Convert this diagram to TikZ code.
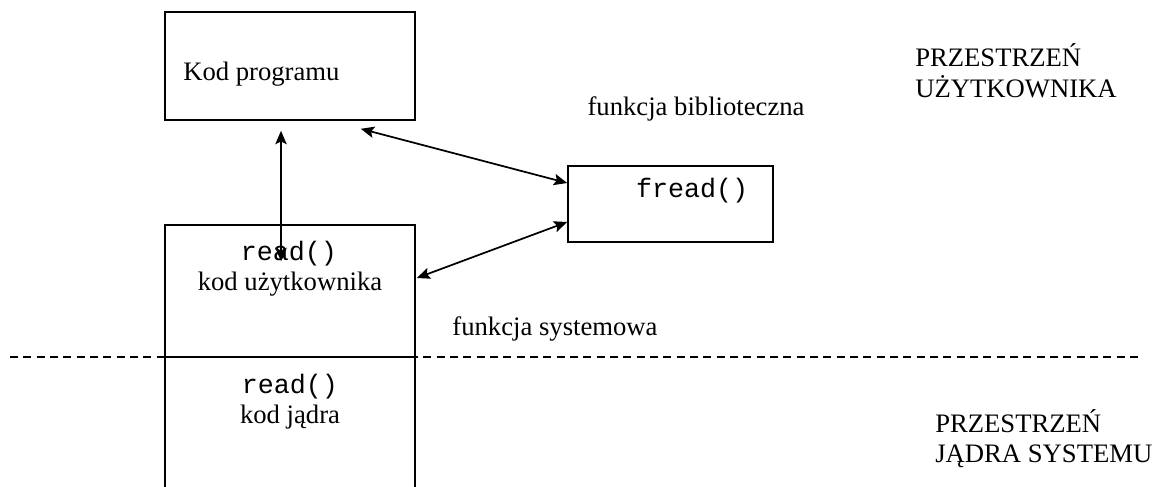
\documentclass[tikz,border=0pt]{standalone}
\usepackage{fontspec}
\setmainfont{Liberation Serif}
\setmonofont{Liberation Mono}
\usetikzlibrary{arrows.meta,calc}
\begin{document}
\begin{tikzpicture}[
  x=0.75pt,y=-0.75pt,
  font=\fontsize{20}{23}\selectfont,
  line/.style={line width=1.2pt},
  box/.style={draw,line width=1.2pt,rectangle,inner sep=0pt},
  txt/.style={inner sep=0pt,anchor=base},
  arr/.style={line width=1.3pt,{Stealth[length=10pt,width=8.5pt,inset=2pt]}-{Stealth[length=10pt,width=8.5pt,inset=2pt]}}]
  \useasboundingbox (0,0) rectangle (1159,486);
  \coordinate (DL) at (10,357);
  \coordinate (DR) at (1140,357);
  \draw[line,dash pattern=on 6pt off 4pt] (DL)--(DR);
  \node[box,minimum width=187.5pt,minimum height=81pt] (prog) at (290,66) {};
  \node[box,minimum width=153.75pt,minimum height=57pt] (fread) at (670.5,204) {};
  \node[box,minimum width=187.5pt,minimum height=99pt] (user) at (290,291) {};
  \node[box,minimum width=187.5pt,minimum height=109.5pt] (kernel) at (290,430) {};
  \node[txt,anchor=base west] (progtxt) at (183,80) {Kod programu};
  \node[txt] (freadtxt) at (692,197) {\ttfamily fread()};
  \node[txt] (userread) at (289,260) {\ttfamily read()};
  \node[txt] (usertxt) at (290,290) {kod użytkownika};
  \node[txt] (kernread) at (290,393) {\ttfamily read()};
  \node[txt] (kerntxt) at (290,423) {kod jądra};
  \node[txt] (libtxt) at (696,115) {funkcja biblioteczna};
  \node[txt] (systxt) at (555,335) {funkcja systemowa};
  \node[txt,anchor=base west] (usp1) at (915,66) {PRZESTRZEŃ};
  \node[txt,anchor=base west] (usp2) at (915,97) {UŻYTKOWNIKA};
  \node[txt,anchor=base west] (ksp1) at (935,432) {PRZESTRZEŃ};
  \node[txt,anchor=base west] (ksp2) at (935,462) {JĄDRA SYSTEMU};
  \draw[arr] ($(prog.south)+(-9,10)$)--($(user.north)+(-9,37)$);
  \draw[arr] ($(prog.south east)+(-55,8)$)--($(fread.west)+(0,-21)$);
  \draw[arr] ($(fread.west)+(0,18)$)--($(user.east)+(1,-13)$);
\end{tikzpicture}
\end{document}
